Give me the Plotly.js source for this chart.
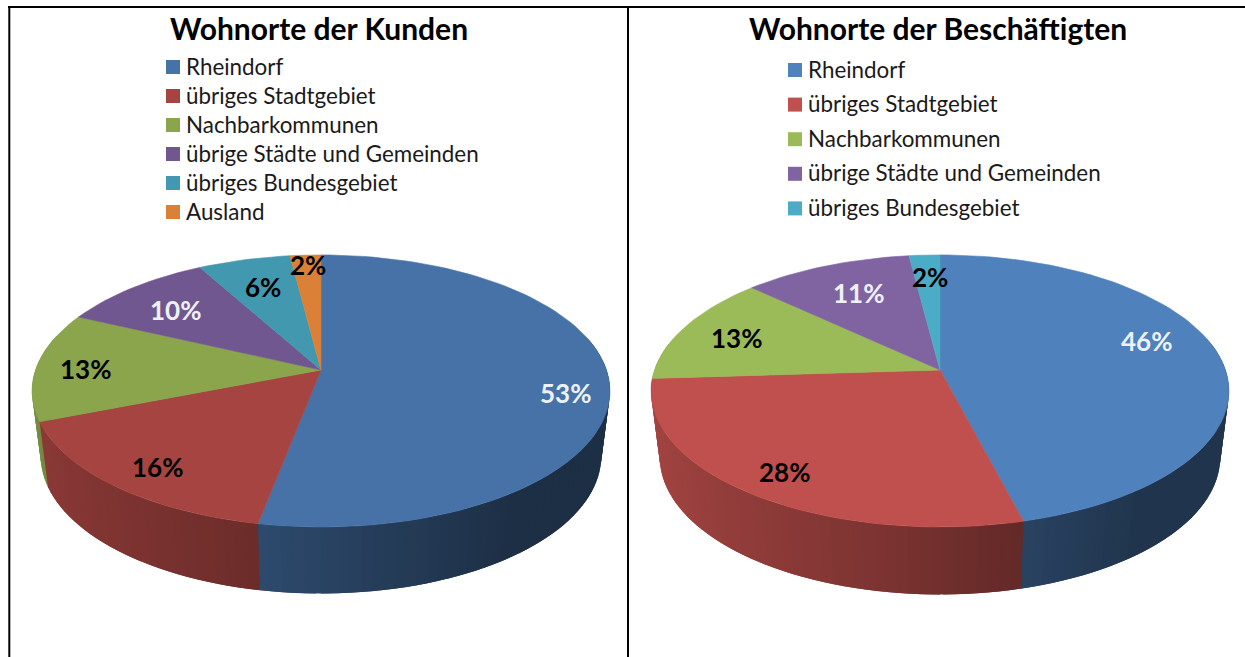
<!DOCTYPE html>
<html><head><meta charset="utf-8">
<script src="https://cdn.plot.ly/plotly-3.0.1.min.js"></script>
<style>html,body{margin:0;padding:0;background:#fff}#c{width:1245px;height:657px}</style>
</head><body><div id="c"></div>
<script>
// --- data ---
const titleKunden = 'Wohnorte der Kunden';
const titleBesch = 'Wohnorte der Beschäftigten';
const catsKunden = ['Rheindorf','übriges Stadtgebiet','Nachbarkommunen','übrige Städte und Gemeinden','übriges Bundesgebiet','Ausland'];
const catsBesch = ['Rheindorf','übriges Stadtgebiet','Nachbarkommunen','übrige Städte und Gemeinden','übriges Bundesgebiet'];
const valsKunden = [53,16,13,10,6,2];
const valsBesch = [46,28,13,11,2];
// --- styles ---
const colsKunden = ['#4672a8','#a64441','#8aa54c','#71578f','#4198af','#da8137'];
const colsBesch = ['#4f81bd','#c0504d','#9bbb59','#8064a2','#4bacc6'];
const txtKunden = ['#eef2f7','#000','#000','#eef2f7','#000','#000'];
const txtBesch = ['#eef2f7','#000','#000','#eef2f7','#000'];
// --- label/legend placement (layout only) ---
const labelKunden = [[565,392.5],[157,466.5],[85,368.5],[175,309.5],[263,286.5],[308,264.5]];
const labelBesch = [[1146,340.5],[784,471.5],[736,337.5],[858,292.5],[930,276.5]];
const legendKunden = {x:173, y:67, step:29, tx:184, ty:-1};
const legendBesch = {x:795, y:70, step:34.6, tx:806, ty:-1};
const FONT = 'Lato, "Open Sans", sans-serif';
const R=285.5, K=132.8, C=-0.154, APEX_Y=370, XS=0.97, YS=1.01;
const STEP=2*Math.PI/180;

function rimTop(cx,th){const u=Math.sin(th),v=-Math.cos(th),w=1+C*v;return [cx+R*u/w,APEX_Y+K*v/w];}
function rimBot(cx,th,drop){const u=Math.sin(th),v=-Math.cos(th),w=1+C*v;return [cx+XS*R*u/w,APEX_Y+drop+YS*K*v/w];}
const stops=[[-1,.85],[-.2,.65],[.3,.5],[.6,.41],[1,.41]];
function shade(t){for(let i=1;i<stops.length;i++){if(t<=stops[i][0]){const a=stops[i-1],b=stops[i],f=(t-a[0])/(b[0]-a[0]);return a[1]+f*(b[1]-a[1]);}}return .41;}
function mul(hex,f){const n=parseInt(hex.slice(1),16);return 'rgb('+[n>>16,(n>>8)&255,n&255].map(c=>Math.round(c*f)).join(',')+')';}

const traces=[],ann=[];
function addPie(cx,cats,vals,cols,drop){
  const total=vals.reduce((a,b)=>a+b,0);
  const walls=[],tops=[];
  let cum=0;
  vals.forEach((val,i)=>{
    const a0=cum/total*2*Math.PI,a1=(cum+val)/total*2*Math.PI;cum+=val;
    const nSeg=Math.max(2,Math.ceil((a1-a0)/STEP));
    const xs=[cx],ys=[APEX_Y];
    for(let s=0;s<=nSeg;s++){const p=rimTop(cx,a0+(a1-a0)*s/nSeg);xs.push(p[0]);ys.push(p[1]);}
    xs.push(cx);ys.push(APEX_Y);
    tops.push({type:'scatter',mode:'lines',x:xs,y:ys,fill:'toself',fillcolor:cols[i],line:{color:cols[i],width:0.6},name:cats[i],text:cats[i]+': '+val+'%',hoverinfo:'text',showlegend:false});
    for(let s=0;s<nSeg;s++){
      let t0=a0+(a1-a0)*s/nSeg,t1=a0+(a1-a0)*(s+1)/nSeg;const tm=(t0+t1)/2;
      if(-Math.cos(tm)<-0.25) continue;
      // overlap each strip toward the front so neighbours leave no seams
      if(tm<Math.PI) t1=Math.min(Math.PI,t1+STEP); else t0=Math.max(Math.PI,t0-STEP);
      const p0=rimTop(cx,t0),p1=rimTop(cx,t1),q1=rimBot(cx,t1,drop),q0=rimBot(cx,t0,drop);
      const col=mul(cols[i],shade(Math.sin(tm)));
      walls.push({v:-Math.cos(tm),tr:{type:'scatter',mode:'lines',x:[p0[0],p1[0],q1[0],q0[0],p0[0]],y:[p0[1],p1[1],q1[1],q0[1],p0[1]],fill:'toself',fillcolor:col,line:{width:0},hoverinfo:'skip',showlegend:false}});
    }
  });
  walls.sort((a,b)=>a.v-b.v);
  traces.push(...walls.map(w=>w.tr),...tops);
}
function addLegend(cats,cols,L){
  const ys=cats.map((c,i)=>L.y+i*L.step);
  traces.push({type:'scatter',mode:'markers',x:cats.map(()=>L.x),y:ys,marker:{symbol:'square',size:14,color:cols,line:{width:0}},hoverinfo:'skip',showlegend:false});
  cats.forEach((c,i)=>ann.push({x:L.tx,y:ys[i]+L.ty,xref:'x',yref:'y',text:c,showarrow:false,xanchor:'left',yanchor:'middle',font:{family:FONT,size:22.4,color:'#1a1a1a'}}));
}
function addLabels(vals,pos,cols){
  vals.forEach((v,i)=>ann.push({x:pos[i][0],y:pos[i][1],xref:'x',yref:'y',text:'<b>'+v+'%</b>',showarrow:false,xanchor:'center',yanchor:'middle',font:{family:FONT,size:26,color:cols[i]}}));
}
addPie(321,catsKunden,valsKunden,colsKunden,65);
addPie(940,catsBesch,valsBesch,colsBesch,66);
addLegend(catsKunden,colsKunden,legendKunden);
addLegend(catsBesch,colsBesch,legendBesch);
addLabels(valsKunden,labelKunden,txtKunden);
addLabels(valsBesch,labelBesch,txtBesch);
[[titleKunden,318.5],[titleBesch,938]].forEach(t=>ann.push({x:t[1],y:28,xref:'x',yref:'y',text:'<b>'+t[0]+'</b>',showarrow:false,xanchor:'center',yanchor:'middle',font:{family:FONT,size:30,color:'#000'}}));

const axis={visible:false,fixedrange:true,showgrid:false,zeroline:false};
const border=(x0,y0,x1,y1)=>({type:'line',xref:'x',yref:'y',x0,y0,x1,y1,line:{color:'#000',width:2}});
Plotly.newPlot('c',traces,{
  width:1245,height:657,margin:{l:0,r:0,t:0,b:0},paper_bgcolor:'#fff',plot_bgcolor:'#fff',showlegend:false,
  xaxis:Object.assign({range:[0,1245]},axis),
  yaxis:Object.assign({range:[657,0]},axis),
  annotations:ann,
  shapes:[border(8,7,1245,7),border(9.3,7,9.3,657),border(628,7,628,657)]
},{displayModeBar:false});
</script></body></html>
